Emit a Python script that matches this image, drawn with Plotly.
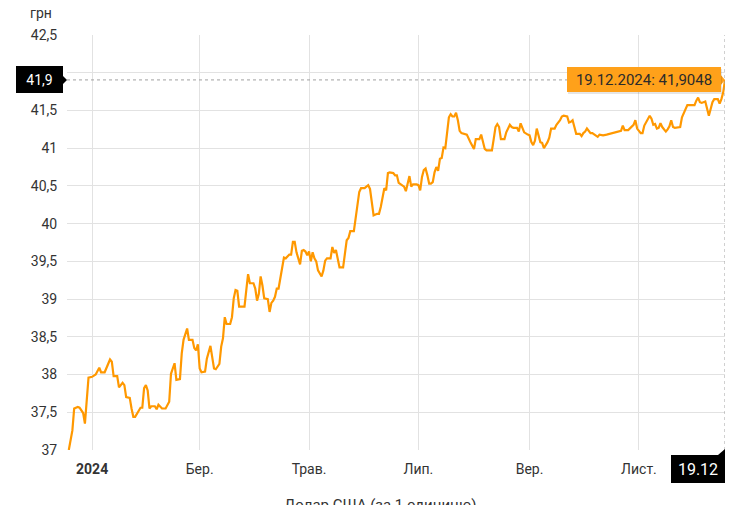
import plotly.graph_objects as go
from datetime import datetime

# ---------------- data ----------------
DATES = [
    "2023-12-19", "2023-12-21", "2023-12-22", "2023-12-24", "2023-12-25", "2023-12-27", "2023-12-28", "2023-12-30",
    "2024-01-01", "2024-01-03", "2024-01-05", "2024-01-06", "2024-01-08", "2024-01-09", "2024-01-11", "2024-01-12",
    "2024-01-13", "2024-01-15", "2024-01-16", "2024-01-18", "2024-01-19", "2024-01-20", "2024-01-22", "2024-01-23",
    "2024-01-24", "2024-01-25", "2024-01-27", "2024-01-28", "2024-01-29", "2024-01-30", "2024-01-31", "2024-02-01",
    "2024-02-02", "2024-02-03", "2024-02-05", "2024-02-06", "2024-02-07", "2024-02-09", "2024-02-11", "2024-02-13",
    "2024-02-14", "2024-02-16", "2024-02-17", "2024-02-19", "2024-02-20", "2024-02-21", "2024-02-23", "2024-02-24",
    "2024-02-26", "2024-02-27", "2024-02-28", "2024-02-29", "2024-03-01", "2024-03-02", "2024-03-04", "2024-03-05",
    "2024-03-07", "2024-03-08", "2024-03-09", "2024-03-10", "2024-03-12", "2024-03-13", "2024-03-14", "2024-03-15",
    "2024-03-16", "2024-03-18", "2024-03-19", "2024-03-20", "2024-03-21", "2024-03-22", "2024-03-23", "2024-03-25",
    "2024-03-26", "2024-03-27", "2024-03-28", "2024-03-29", "2024-03-31", "2024-04-01", "2024-04-02", "2024-04-03",
    "2024-04-04", "2024-04-05", "2024-04-06", "2024-04-08", "2024-04-09", "2024-04-10", "2024-04-11", "2024-04-12",
    "2024-04-13", "2024-04-14", "2024-04-15", "2024-04-16", "2024-04-17", "2024-04-18", "2024-04-19", "2024-04-20",
    "2024-04-21", "2024-04-22", "2024-04-23", "2024-04-24", "2024-04-26", "2024-04-27", "2024-04-28", "2024-04-29",
    "2024-04-30", "2024-05-01", "2024-05-02", "2024-05-03", "2024-05-04", "2024-05-05", "2024-05-06", "2024-05-08",
    "2024-05-09", "2024-05-10", "2024-05-11", "2024-05-13", "2024-05-14", "2024-05-15", "2024-05-16", "2024-05-17",
    "2024-05-18", "2024-05-20", "2024-05-21", "2024-05-22", "2024-05-23", "2024-05-24", "2024-05-26", "2024-05-27",
    "2024-05-28", "2024-05-29", "2024-05-30", "2024-06-01", "2024-06-02", "2024-06-03", "2024-06-04", "2024-06-05",
    "2024-06-06", "2024-06-08", "2024-06-09", "2024-06-10", "2024-06-11", "2024-06-12", "2024-06-13", "2024-06-14",
    "2024-06-15", "2024-06-17", "2024-06-18", "2024-06-19", "2024-06-20", "2024-06-21", "2024-06-22", "2024-06-23",
    "2024-06-24", "2024-06-25", "2024-06-26", "2024-06-27", "2024-06-28", "2024-06-30", "2024-07-01", "2024-07-02",
    "2024-07-03", "2024-07-04", "2024-07-05", "2024-07-06", "2024-07-07", "2024-07-08", "2024-07-09", "2024-07-10",
    "2024-07-11", "2024-07-12", "2024-07-13", "2024-07-14", "2024-07-15", "2024-07-16", "2024-07-17", "2024-07-18",
    "2024-07-19", "2024-07-20", "2024-07-21", "2024-07-22", "2024-07-23", "2024-07-24", "2024-07-25", "2024-07-27",
    "2024-07-28", "2024-07-30", "2024-07-31", "2024-08-01", "2024-08-02", "2024-08-04", "2024-08-05", "2024-08-06",
    "2024-08-07", "2024-08-08", "2024-08-11", "2024-08-12", "2024-08-13", "2024-08-14", "2024-08-15", "2024-08-16",
    "2024-08-18", "2024-08-19", "2024-08-21", "2024-08-22", "2024-08-23", "2024-08-25", "2024-08-26", "2024-08-27",
    "2024-08-28", "2024-08-29", "2024-08-31", "2024-09-01", "2024-09-02", "2024-09-03", "2024-09-04", "2024-09-05",
    "2024-09-06", "2024-09-07", "2024-09-08", "2024-09-09", "2024-09-11", "2024-09-12", "2024-09-13", "2024-09-15",
    "2024-09-16", "2024-09-18", "2024-09-19", "2024-09-20", "2024-09-22", "2024-09-23", "2024-09-24", "2024-09-25",
    "2024-09-26", "2024-09-27", "2024-09-29", "2024-09-30", "2024-10-01", "2024-10-02", "2024-10-03", "2024-10-05",
    "2024-10-06", "2024-10-07", "2024-10-09", "2024-10-10", "2024-10-12", "2024-10-14", "2024-10-16", "2024-10-18",
    "2024-10-20", "2024-10-22", "2024-10-23", "2024-10-24", "2024-10-26", "2024-10-28", "2024-10-29", "2024-10-30",
    "2024-10-31", "2024-11-02", "2024-11-03", "2024-11-04", "2024-11-06", "2024-11-07", "2024-11-08", "2024-11-09",
    "2024-11-10", "2024-11-11", "2024-11-12", "2024-11-13", "2024-11-14", "2024-11-16", "2024-11-17", "2024-11-18",
    "2024-11-19", "2024-11-20", "2024-11-21", "2024-11-23", "2024-11-24", "2024-11-25", "2024-11-27", "2024-11-28",
    "2024-11-29", "2024-12-01", "2024-12-02", "2024-12-03", "2024-12-04", "2024-12-05", "2024-12-06", "2024-12-08",
    "2024-12-09", "2024-12-10", "2024-12-11", "2024-12-12", "2024-12-13", "2024-12-14", "2024-12-15", "2024-12-16",
    "2024-12-17", "2024-12-18", "2024-12-19",
]

RATES = [
    37.00, 37.26, 37.55, 37.57, 37.56, 37.49, 37.35, 37.96,
    37.97, 38.00, 38.09, 38.03, 38.03, 38.08, 38.20, 38.17,
    37.98, 37.98, 37.83, 37.89, 37.86, 37.70, 37.69, 37.55,
    37.44, 37.44, 37.53, 37.56, 37.56, 37.82, 37.86, 37.79,
    37.55, 37.58, 37.58, 37.54, 37.60, 37.55, 37.55, 37.64,
    38.01, 38.15, 37.93, 37.94, 38.28, 38.46, 38.61, 38.46,
    38.46, 38.35, 38.32, 38.40, 38.08, 38.03, 38.04, 38.21,
    38.38, 38.23, 38.08, 38.07, 38.14, 38.37, 38.48, 38.76,
    38.67, 38.67, 38.76, 39.01, 39.12, 39.11, 38.90, 38.90,
    38.90, 39.12, 39.33, 39.21, 39.21, 39.14, 38.98, 39.07,
    39.30, 39.18, 39.01, 39.00, 38.83, 38.95, 38.98, 39.03,
    39.14, 39.14, 39.27, 39.42, 39.55, 39.54, 39.57, 39.59,
    39.59, 39.76, 39.76, 39.62, 39.46, 39.64, 39.65, 39.63,
    39.58, 39.63, 39.50, 39.62, 39.54, 39.50, 39.38, 39.30,
    39.38, 39.51, 39.54, 39.54, 39.69, 39.61, 39.65, 39.52,
    39.42, 39.42, 39.62, 39.78, 39.81, 39.90, 39.90, 40.07,
    40.31, 40.42, 40.47, 40.47, 40.49, 40.51, 40.46, 40.31,
    40.11, 40.13, 40.13, 40.22, 40.35, 40.47, 40.44, 40.67,
    40.68, 40.67, 40.64, 40.64, 40.54, 40.52, 40.51, 40.49,
    40.43, 40.54, 40.63, 40.49, 40.52, 40.52, 40.51, 40.44,
    40.62, 40.71, 40.73, 40.64, 40.53, 40.53, 40.55, 40.68,
    40.75, 40.70, 40.86, 40.87, 41.01, 41.00, 41.19, 41.41,
    41.45, 41.42, 41.42, 41.47, 41.37, 41.23, 41.20, 41.18,
    41.18, 41.08, 41.03, 40.99, 41.12, 41.12, 41.18, 41.08,
    40.99, 40.97, 40.97, 41.12, 41.28, 41.32, 41.28, 41.12,
    41.12, 41.21, 41.31, 41.28, 41.27, 41.27, 41.22, 41.33,
    41.28, 41.21, 41.18, 41.17, 41.08, 41.04, 41.10, 41.26,
    41.17, 41.08, 41.07, 41.00, 41.08, 41.14, 41.26, 41.26,
    41.31, 41.37, 41.42, 41.43, 41.42, 41.34, 41.35, 41.37,
    41.28, 41.19, 41.19, 41.16, 41.20, 41.22, 41.26, 41.20,
    41.20, 41.18, 41.15, 41.18, 41.17, 41.18, 41.19, 41.21,
    41.21, 41.23, 41.30, 41.24, 41.24, 41.28, 41.31, 41.37,
    41.26, 41.20, 41.20, 41.30, 41.40, 41.43, 41.39, 41.31,
    41.32, 41.26, 41.27, 41.33, 41.28, 41.22, 41.25, 41.29,
    41.37, 41.28, 41.27, 41.28, 41.28, 41.41, 41.52, 41.57,
    41.57, 41.57, 41.57, 41.63, 41.67, 41.61, 41.60, 41.62,
    41.52, 41.43, 41.52, 41.61, 41.65, 41.65, 41.65, 41.59,
    41.65, 41.74, 41.9048,
]

X_TICK_DATES = ["2024-01-01", "2024-03-01", "2024-05-01", "2024-07-01", "2024-09-01", "2024-11-01"]
X_TICK_LABELS = ["<b>2024</b>", "Бер.", "Трав.", "Лип.", "Вер.", "Лист."]
Y_TICKS = [37, 37.5, 38, 38.5, 39, 39.5, 40, 40.5, 41, 41.5, 42, 42.5]
X_RANGE = ["2023-12-18", "2024-12-19"]
Y_RANGE = [37, 42.5]
UNIT = "грн"
SERIES_NAME = "Долар США (за 1 одиницю)"

# ---------------- styles ----------------
FONT = "Roboto"
LINE_COLOR = "#ff9800"
TIP_COLOR = "#ffa11a"
GRID = "#e2e2e2"
TXT = "#333333"

last_date = DATES[-1]
last_val = RATES[-1]
dt = datetime.strptime(last_date, "%Y-%m-%d")
tip_text = f"{dt:%d.%m.%Y}: {str(last_val).replace('.', ',')}"
short_val = f"{last_val:.1f}".replace(".", ",")
short_date = f"{dt:%d.%m}"

fig = go.Figure()
fig.add_trace(go.Scatter(
    x=DATES, y=RATES, mode="lines", name=SERIES_NAME,
    line=dict(color=LINE_COLOR, width=2.2),
    hoverinfo="skip", showlegend=False,
))

shapes = [
    # dotted crosshair lines
    dict(type="line", xref="paper", yref="y", x0=0, x1=1, y0=last_val, y1=last_val,
         line=dict(color="#a0a0a0", width=1, dash="dot")),
    dict(type="line", xref="x", yref="paper", x0=last_date, x1=last_date, y0=0, y1=1,
         line=dict(color="#a0a0a0", width=1, dash="dot")),
    # pointer of left value label
    dict(type="path", xref="paper", yref="y", xsizemode="pixel", ysizemode="pixel",
         xanchor=0, yanchor=last_val, path="M -5,5 L 0,0 L -5,-5 Z",
         fillcolor="black", line=dict(width=0)),
    # pointer of tooltip
    dict(type="path", xref="x", yref="y", xsizemode="pixel", ysizemode="pixel",
         xanchor=last_date, yanchor=last_val, path="M -5,6 L 0,0 L -5,-6 Z",
         fillcolor=TIP_COLOR, line=dict(width=0)),
    # notch of bottom date label
    dict(type="path", xref="x", yref="paper", xsizemode="pixel", ysizemode="pixel",
         xanchor=last_date, yanchor=0, path="M -7,-5 L 0,1 L 0,-5 Z",
         fillcolor="black", line=dict(width=0)),
]

annotations = [
    # unit label
    dict(text=UNIT, xref="paper", yref="paper", x=0, y=1, xanchor="right", yanchor="bottom",
         xshift=-13, yshift=12, showarrow=False, font=dict(family=FONT, size=14, color=TXT)),
    # left value label
    dict(text=short_val, xref="paper", yref="y", x=0, y=last_val, xanchor="right", yanchor="middle",
         xshift=-4, showarrow=False, bgcolor="black", width=43, height=23, borderpad=2, borderwidth=0,
         font=dict(family=FONT, size=14, color="white")),
    # tooltip shadow
    dict(text=tip_text, xref="x", yref="y", x=last_date, y=last_val, xanchor="right", yanchor="middle",
         xshift=-3, yshift=-2, showarrow=False, bgcolor="rgba(0,0,0,0.10)", width=150, height=21,
         borderpad=2, borderwidth=0, font=dict(family=FONT, size=15, color="rgba(0,0,0,0)")),
    # tooltip
    dict(text=tip_text, xref="x", yref="y", x=last_date, y=last_val, xanchor="right", yanchor="middle",
         xshift=-4, showarrow=False, bgcolor=TIP_COLOR, width=150, height=21,
         borderpad=2, borderwidth=0, font=dict(family=FONT, size=15, color="#2b2b2b")),
    # bottom date label
    dict(text=short_date, xref="x", yref="paper", x=last_date, y=0, xanchor="right", yanchor="top",
         yshift=-5, showarrow=False, bgcolor="black", width=50, height=24, borderpad=2, borderwidth=0,
         font=dict(family=FONT, size=16, color="white")),
    # legend text (cut by the bottom edge)
    dict(text=SERIES_NAME, xref="paper", yref="paper", x=0.476, y=0, xanchor="center", yanchor="top",
         yshift=-44, showarrow=False, font=dict(family=FONT, size=15, color=TXT)),
]

# the page body adds an 8px offset; margins compensate for it
fig.update_layout(
    width=740, height=505,
    margin=dict(l=59, r=23, t=27, b=63),
    paper_bgcolor="white", plot_bgcolor="white",
    separators=", ",
    font=dict(family=FONT, size=14, color=TXT),
    shapes=shapes, annotations=annotations,
    hovermode=False,
)
fig.update_xaxes(
    type="date", range=X_RANGE, tickvals=X_TICK_DATES, ticktext=X_TICK_LABELS,
    showgrid=True, gridcolor=GRID, gridwidth=1, zeroline=False, showline=False,
    ticks="outside", ticklen=6, tickcolor="rgba(0,0,0,0)",
    tickfont=dict(family=FONT, size=14, color=TXT),
)
fig.update_yaxes(
    range=Y_RANGE, tickvals=Y_TICKS,
    showgrid=True, gridcolor=GRID, gridwidth=1, zeroline=False, showline=False,
    ticks="outside", ticklen=6, tickcolor="rgba(0,0,0,0)",
    tickfont=dict(family=FONT, size=14, color=TXT),
)

fig.write_html("out.html")
